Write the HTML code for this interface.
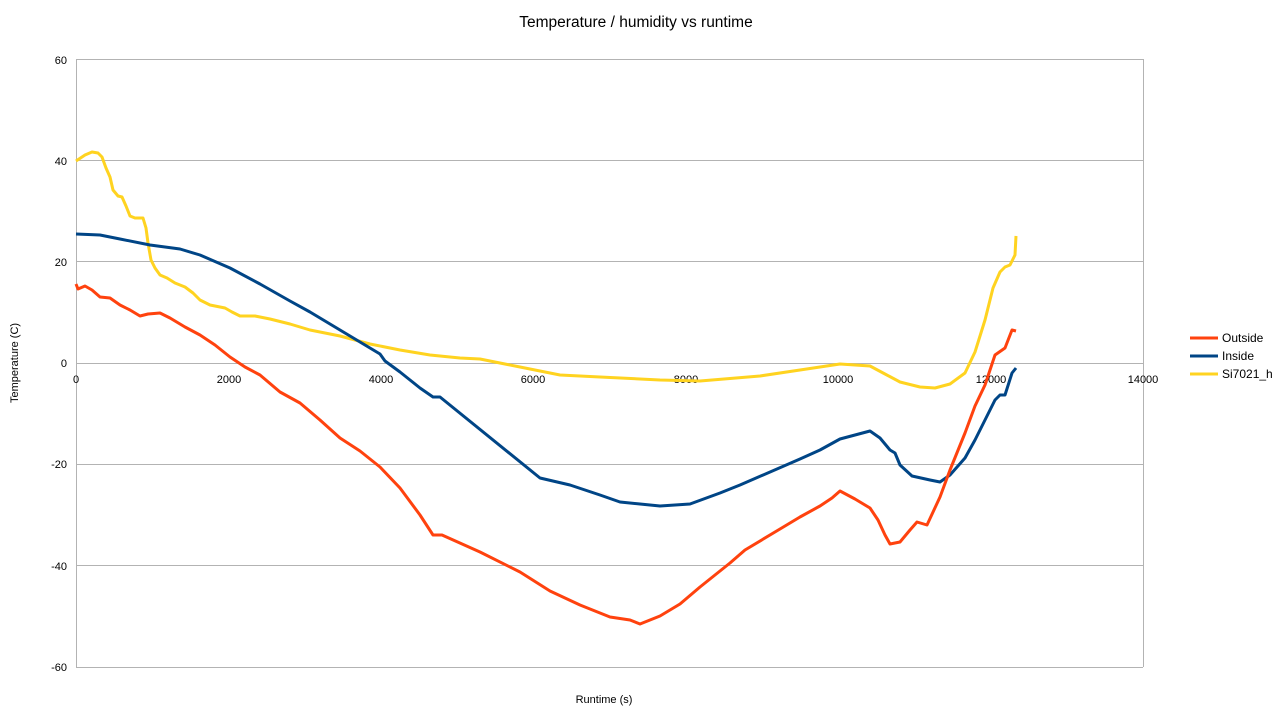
<!DOCTYPE html>
<html><head><meta charset="utf-8"><style>
body{margin:0;background:#fff;}
svg text{font-family:"Liberation Sans",sans-serif;fill:#000;}
</style></head><body>
<svg width="1280" height="720" xmlns="http://www.w3.org/2000/svg">
<rect width="1280" height="720" fill="#fff"/>
<text x="636" y="27" font-size="15.5" text-anchor="middle">Temperature / humidity vs runtime</text>
<g stroke="#b3b3b3" stroke-width="1">
<line x1="76" y1="59.5" x2="1143" y2="59.5"/>
<line x1="76" y1="160.5" x2="1143" y2="160.5"/>
<line x1="76" y1="261.5" x2="1143" y2="261.5"/>
<line x1="76" y1="363.5" x2="1143" y2="363.5"/>
<line x1="76" y1="464.5" x2="1143" y2="464.5"/>
<line x1="76" y1="565.5" x2="1143" y2="565.5"/>
<line x1="76" y1="667.5" x2="1143" y2="667.5"/>
<line x1="76.5" y1="59" x2="76.5" y2="667"/>
<line x1="1143.5" y1="59" x2="1143.5" y2="667"/>
</g>
<g font-size="11" text-anchor="end">
<text x="67" y="64">60</text><text x="67" y="165">40</text><text x="67" y="266">20</text>
<text x="67" y="367">0</text><text x="67" y="468">-20</text><text x="67" y="570">-40</text><text x="67" y="671">-60</text>
</g>
<g font-size="11" text-anchor="middle">
<text x="76" y="383">0</text><text x="229" y="383">2000</text><text x="381" y="383">4000</text>
<text x="533" y="383">6000</text><text x="686" y="383">8000</text><text x="838" y="383">10000</text>
<text x="991" y="383">12000</text><text x="1143" y="383">14000</text>
</g>
<text x="604" y="703" font-size="11" text-anchor="middle">Runtime (s)</text>
<text transform="translate(18,363) rotate(-90)" font-size="11" text-anchor="middle">Temperature (C)</text>
<g fill="none" stroke-width="3" stroke-linejoin="round">
<polyline stroke="#ffd320" points="76,161 85,155 92,152 98,153 102,157 106,168 110,177 113,190 118,196 122,197 126,206 130,216 135,218 143,218 146,228 148,243 151,260 155,268 160,275 167,278 175,283 185,287 193,293 200,300 210,305 225,308 232,312 240,316 255,316 270,319 290,324 310,330 340,336 370,344 400,350 430,355 460,358 480,359 520,367 560,375 600,377 660,380 700,381 760,376 800,370 840,364 870,366 885,374 900,382 920,387 935,388 950,384 965,373 975,352 985,320 993,288 1000,272 1005,267 1010,265 1015,255 1016,236"/>
<polyline stroke="#004586" points="76,234 100,235 120,239 150,245 180,249 200,255 230,268 260,284 290,301 310,312 340,330 365,345 380,354 385,361 400,372 410,380 420,388 433,397 440,397 540,478 570,485 600,495 620,502 640,504 660,506 690,504 720,493 740,485 800,459 820,450 840,439 870,431 880,438 890,450 895,453 900,465 912,476 930,480 940,482 950,475 965,458 975,440 985,420 995,400 1000,395 1005,395 1012,373 1016,368"/>
<polyline stroke="#ff420e" points="76,284 78,289 85,286 92,290 100,297 110,298 120,305 130,310 140,316 148,314 160,313 170,318 185,327 200,335 215,345 230,357 245,367 260,375 280,392 300,403 320,420 340,438 360,451 380,467 400,488 420,515 433,535 442,535 480,552 520,572 550,591 580,605 610,617 630,620 640,624 660,616 680,604 700,587 715,575 730,563 745,550 780,529 800,517 820,506 832,498 840,491 855,499 870,508 878,520 885,535 890,544 900,542 910,530 917,522 927,525 940,497 950,470 965,433 975,406 985,385 995,355 1005,348 1012,330 1016,331"/>
</g>
<g stroke-width="3">
<line x1="1190" y1="338" x2="1218" y2="338" stroke="#ff420e"/>
<line x1="1190" y1="356" x2="1218" y2="356" stroke="#004586"/>
<line x1="1190" y1="374" x2="1218" y2="374" stroke="#ffd320"/>
</g>
<g font-size="12">
<text x="1222" y="342">Outside</text><text x="1222" y="360">Inside</text><text x="1222" y="378">Si7021_h</text>
</g>
</svg>
</body></html>
